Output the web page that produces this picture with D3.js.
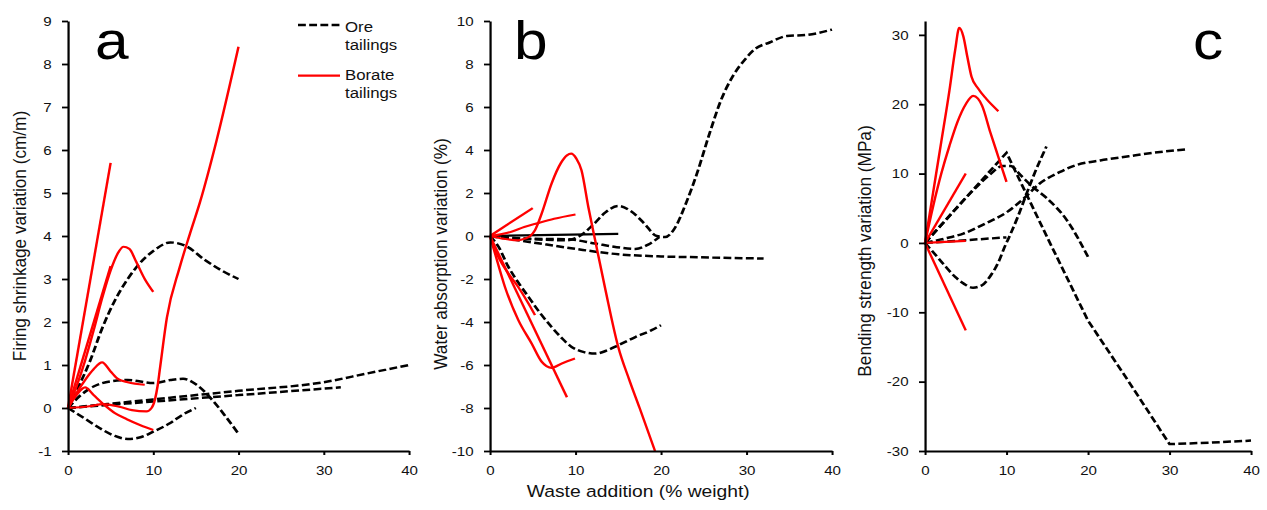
<!DOCTYPE html>
<html><head><meta charset="utf-8">
<script src="https://cdn.jsdelivr.net/npm/d3@7"></script>
<style>body{margin:0;background:#fff}svg{display:block}</style>
</head><body>
<svg id="chart" width="1267" height="510"></svg>
<script>
// ---------- tick labels ----------
const xTicks = [0, 10, 20, 30, 40];
const aTicks = [-1, 0, 1, 2, 3, 4, 5, 6, 7, 8, 9];
const bTicks = [-10, -8, -6, -4, -2, 0, 2, 4, 6, 8, 10];
const cTicks = [-30, -20, -10, 0, 10, 20, 30];
const legendLabels = [["Ore", "tailings"], ["Borate", "tailings"]];
const xLabel = "Waste addition (% weight)";

// ---------- panel a: firing shrinkage variation (cm/m) ----------
const aOre1 = [[0,0],[1,0.4],[2.6,1.1],[4,1.85],[5.5,2.5],[7,3.0],[8,3.27],[10,3.65],[12,3.85],[14,3.75],[16,3.45],[18,3.2],[20,3.0]];
const aOre2 = [[0,0],[1.5,0.3],[3,0.5],[5,0.62],[7,0.65],[10,0.58],[12,0.65],[13.5,0.68],[15,0.55],[17,0.17],[18.5,-0.2],[20,-0.6]];
const aOre3 = [[0,0],[2,-0.25],[4,-0.5],[5.5,-0.65],[7,-0.72],[8.5,-0.68],[10,-0.55],[12,-0.35],[13.5,-0.15],[15,0]];
const aOre4 = [[0,0],[10,0.2],[20,0.4],[30,0.6],[35,0.8],[40,1.0]];
const aOre5 = [[0,0],[10,0.15],[20,0.3],[32,0.48]];
const aBor1 = [[0,0],[5,5.7]];
const aBor2 = [[0,0],[5,3.3]];
const aBor3 = [[0,0],[1,0.5],[2,1.1],[3,1.8],[4,2.55],[5,3.2],[6,3.65],[6.5,3.75],[7.2,3.7],[8,3.4],[9,3.0],[10,2.7]];
const aBor4 = [[0,0],[1,0.35],[2,0.65],[3,0.9],[4,1.06],[5,0.85],[5.9,0.67],[7,0.6],[9,0.54]];
const aBor5 = [[0,0],[1,0.3],[2,0.48],[3,0.3],[4.1,0.1],[5.5,-0.12],[6.9,-0.26],[8.5,-0.4],[10,-0.51]];
const aBor6 = [[0,0],[2.5,0.04],[4.1,0.09],[6,0.03],[7.5,-0.05],[9.2,-0.08],[9.8,0.0],[10.2,0.2],[10.5,0.5],[10.8,0.94],[11.6,2.1],[13.1,3.27],[14.3,4.05],[15.5,4.8],[17.4,6.2],[20,8.4]];

// ---------- panel b: water absorption variation (%) ----------
const bOre1 = [[0,0],[5,-0.15],[9,-0.2],[10.5,0],[12,0.5],[13.5,1.1],[15,1.4],[16.5,1.15],[18,0.6],[19.5,0],[20.5,-0.05],[21.5,0.3],[23,1.6],[24.2,2.9],[25.7,4.8],[27,6.3],[28.5,7.5],[29.8,8.2],[31,8.7],[32.7,9.0],[34.7,9.3],[37,9.35],[40,9.6]];
const bOre2 = [[0,0],[4,-0.12],[9,-0.15],[12.3,-0.35],[14.5,-0.5],[17,-0.6],[18.5,-0.4],[19.8,-0.05]];
const bOre3 = [[0,0],[5,-0.3],[10,-0.6],[15,-0.85],[20,-0.95],[26,-1.0],[32,-1.05]];
const bOre4 = [[0,0],[1,-0.5],[2.1,-1.4],[3.2,-2.1],[4.5,-2.83],[5.8,-3.55],[7.2,-4.23],[8.4,-4.75],[9.55,-5.16],[11,-5.4],[12.3,-5.47],[13.7,-5.32],[15,-5.08],[17,-4.7],[18.9,-4.38],[20,-4.15]];
const bSolid = [[0,0],[15,0.1]];
const bBor1 = [[0,0],[5,1.3]];
const bBor2 = [[0,0],[2.5,0.2],[4,0.42],[5.6,0.6],[7.5,0.8],[10,1.0]];
const bBor3 = [[0,0],[1.5,-0.12],[3.3,-0.2],[4.1,-0.12],[4.7,0],[5.26,0.27],[6.05,1.05],[7.2,2.44],[8.3,3.4],[9.0,3.75],[9.5,3.83],[10.1,3.6],[10.7,3.06],[11.5,1.35],[12.3,-0.2],[13.5,-2.5],[15,-5.16],[16.3,-6.7],[17.5,-8.0],[19.3,-10]];
const bBor4 = [[0,0],[9,-7.5]];
const bBor5 = [[0,0],[0.97,-0.97],[2.14,-1.74],[3.3,-2.37],[4.5,-3.14],[5.26,-3.68]];
const bBor6 = [[0,0],[0.58,-0.8],[1.75,-2.37],[3.3,-3.9],[4.87,-5.0],[6.05,-5.85],[7.2,-6.13],[8.4,-5.93],[9.94,-5.7]];

// ---------- panel c: bending strength variation (MPa) ----------
const cOre1 = [[0,0],[5,6.5],[10,13],[15,0.8],[20,-11.2],[25,-20],[30,-29],[35,-28.8],[40,-28.5]];
const cOre2 = [[0,0],[2,2.6],[4,5.2],[6,7.7],[8,9.9],[9.5,11.1],[10.5,11.1],[11.7,9.8],[13,8.3],[14.9,6.5],[17.4,3.3],[20,-2]];
const cOre3 = [[0,0],[2.3,0.6],[4.7,1.35],[7.4,2.8],[10,4.4],[12.3,6.6],[14,8.5],[16.5,10.2],[18.5,11.2],[21.5,11.9],[25,12.5],[28,13],[32,13.5]];
const cOre4 = [[0,0],[1.2,-1.6],[2.45,-3.3],[3.7,-4.9],[4.8,-5.9],[5.9,-6.45],[7,-6.1],[8,-4.8],[9,-2.8],[9.8,-0.5],[10.5,1.3],[11.4,3.8],[12.3,6.6],[13.5,10.2],[14.9,13.9]];
const cOre5 = [[0,0],[5,0.4],[10,0.8]];
const cBor1 = [[0,0],[1,7.3],[2,14.6],[3,22],[3.7,27.8],[4.2,31],[4.7,29.8],[5.2,26.8],[5.7,24],[6.5,22.3],[7.5,20.8],[9,19]];
const cBor2 = [[0,0],[1,5.3],[2,10],[3,14],[4,17.5],[5,20],[5.9,21.2],[6.5,20.8],[7,19.8],[8,16.0],[9,12.4],[10,8.8]];
const cBor3 = [[0,0],[5,10]];
const cBor4 = [[0,0],[5,-12.6]];
const cBor5 = [[0,0],[5,0.3]];

// ---------- layout ----------
const S = 1.12;               // horizontal stretch of the original image
const W = 1267, H = 510;
const svg = d3.select('#chart')
  .attr('viewBox', `0 0 ${W / S} ${H}`)
  .attr('preserveAspectRatio', 'none');
const FONT = "'Liberation Sans', Arial, Helvetica, sans-serif";
const yTop = 21, yBot = 451;
const DASH = '7,3', DASHW = 2.5, REDW = 2.2;

const panels = [
  { letter: 'a', x0: 68, x1: 409, dom: [-1, 9], ticks: aTicks, ylab: 'Firing shrinkage variation (cm/m)', labX: 25.6, labY: 236, letX: 95,
    ore: [aOre1, aOre2, aOre3, aOre4, aOre5], solid: [], bor: [aBor1, aBor2, aBor3, aBor4, aBor5, aBor6], linearOre: [] },
  { letter: 'b', x0: 490, x1: 832, dom: [-10, 10], ticks: bTicks, ylab: 'Water absorption variation (%)', labX: 447.2, labY: 254, letX: 514,
    ore: [bOre1, bOre2, bOre3, bOre4], solid: [bSolid], bor: [bBor1, bBor2, bBor3, bBor4, bBor5, bBor6], linearOre: [] },
  { letter: 'c', x0: 925, x1: 1251, dom: [-30, 32], ticks: cTicks, ylab: 'Bending strength variation (MPa)', labX: 870.6, labY: 251, letX: 1193,
    ore: [cOre1, cOre2, cOre3, cOre4, cOre5], solid: [], bor: [cBor1, cBor2, cBor3, cBor4, cBor5], linearOre: [cOre1] }
];

panels.forEach(p => {
  const g = svg.append('g');
  const x = d3.scaleLinear().domain([0, 40]).range([p.x0 / S, p.x1 / S]);
  const y = d3.scaleLinear().domain(p.dom).range([yBot, yTop]);

  const line = d3.line().x(d => x(d[0])).y(d => y(d[1])).curve(d3.curveMonotoneX);
  const lineLin = d3.line().x(d => x(d[0])).y(d => y(d[1]));

  p.ore.forEach(s => g.append('path').attr('d', (p.linearOre.includes(s) ? lineLin : line)(s))
    .attr('fill', 'none').attr('stroke', '#000').attr('stroke-width', DASHW).attr('stroke-dasharray', DASH));
  p.solid.forEach(s => g.append('path').attr('d', line(s))
    .attr('fill', 'none').attr('stroke', '#000').attr('stroke-width', 2.2));
  p.bor.forEach(s => g.append('path').attr('d', line(s))
    .attr('fill', 'none').attr('stroke', '#ff0000').attr('stroke-width', REDW));

  const ax = g.append('g').attr('transform', `translate(0,${yBot})`)
    .call(d3.axisBottom(x).tickValues(xTicks).tickFormat(d => String(d)).tickSize(4).tickPadding(10).tickSizeOuter(0));
  const ay = g.append('g').attr('transform', `translate(${p.x0 / S},0)`)
    .call(d3.axisLeft(y).tickValues(p.ticks).tickFormat(d => String(d)).tickSize(6 / S).tickPadding(9.3).tickSizeOuter(0));
  [ax, ay].forEach(a => {
    a.select('.domain').attr('stroke', '#000').attr('stroke-width', 2);
    a.selectAll('.tick line').attr('stroke', '#000').attr('stroke-width', 1.8);
    a.selectAll('.tick text').attr('fill', '#111').style('font-family', FONT).style('font-size', '13.5px');
  });

  g.append('text').attr('transform', `translate(${p.labX / S},${p.labY}) rotate(-90)`)
    .attr('text-anchor', 'middle').style('font-family', FONT).style('font-size', '17.2px').attr('fill', '#111')
    .text(p.ylab);

  g.append('text').attr('x', p.letX / S).attr('y', 59)
    .style('font-family', FONT).style('font-size', '54px').attr('fill', '#000').text(p.letter);
});

// x axis title (centred under panel b)
svg.append('text').attr('x', 638.3 / S).attr('y', 497.5).attr('text-anchor', 'middle')
  .style('font-family', FONT).style('font-size', '17.2px').attr('fill', '#111').text(xLabel);

// legend (panel a)
const lg = svg.append('g');
lg.append('line').attr('x1', 298 / S).attr('x2', 340 / S).attr('y1', 25).attr('y2', 25)
  .attr('stroke', '#000').attr('stroke-width', DASHW).attr('stroke-dasharray', DASH);
lg.append('line').attr('x1', 298 / S).attr('x2', 340 / S).attr('y1', 75.7).attr('y2', 75.7)
  .attr('stroke', '#ff0000').attr('stroke-width', REDW);
const lgBase = [32.5, 80.5];
legendLabels.forEach((lbl, i) => {
  const t = lg.append('text').attr('x', 345 / S).attr('y', lgBase[i])
    .style('font-family', FONT).style('font-size', '15px').attr('fill', '#111');
  lbl.forEach((s, j) => {
    t.append('tspan').attr('x', 345 / S).attr('dy', j === 0 ? 0 : 17.5).text(s);
  });
});
</script>
</body></html>
